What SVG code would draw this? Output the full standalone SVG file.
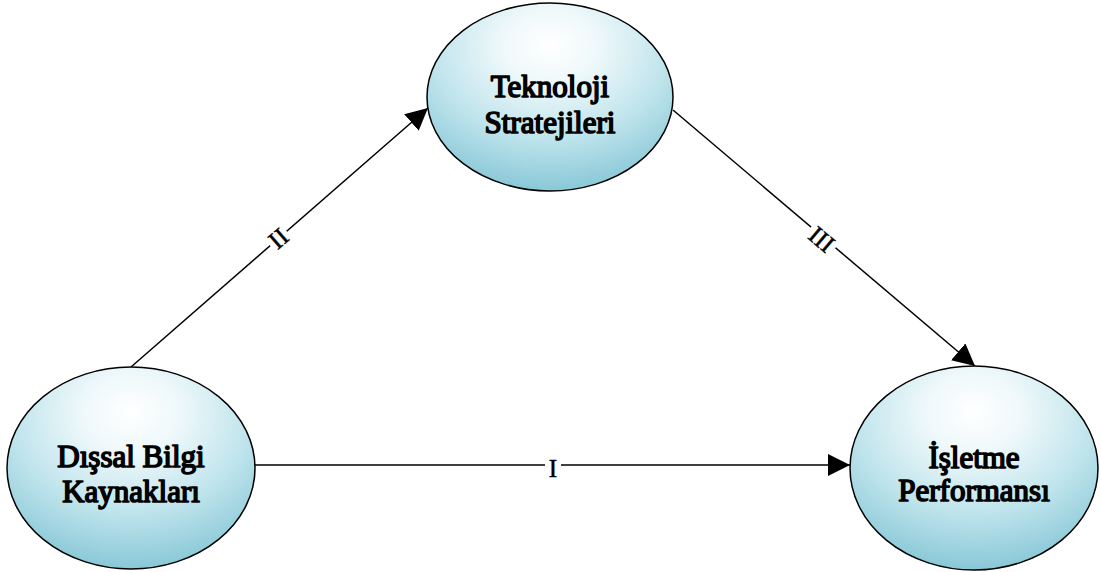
<svg xmlns="http://www.w3.org/2000/svg" width="1101" height="572" viewBox="0 0 1101 572">
<defs>
<radialGradient id="g" cx="50%" cy="25%" r="80%" fx="50%" fy="22%">
<stop offset="0" stop-color="#ffffff"/>
<stop offset="0.25" stop-color="#eef8fa"/>
<stop offset="0.6" stop-color="#bfe4ec"/>
<stop offset="1" stop-color="#7fc3d3"/>
</radialGradient>
<marker id="arr" viewBox="0 0 10 10" refX="10" refY="5" markerWidth="22" markerHeight="22" markerUnits="userSpaceOnUse" orient="auto">
<path d="M0,0 L10,5 L0,10 Z" fill="#000"/>
</marker>
<style>
.node ellipse{fill:url(#g);stroke:#000;stroke-width:1.5}
.node text{font-family:'Liberation Serif',serif;font-weight:normal;font-size:31px;text-anchor:middle;fill:#000;stroke:#000;stroke-width:1.6;stroke-linejoin:round}
.conn line{stroke:#000;stroke-width:1.5;fill:none}
.lbl{font-family:'Liberation Serif',serif;font-size:25px;text-anchor:middle;fill:#000;stroke:#000;stroke-width:0.5}
</style>
</defs>
<g id="connectors" class="conn">
<line x1="131" y1="367" x2="428" y2="108" marker-end="url(#arr)"/>
<line x1="673" y1="110" x2="975" y2="366" marker-end="url(#arr)"/>
<line x1="255" y1="465" x2="850" y2="465" marker-end="url(#arr)"/>
<g transform="translate(278,238) rotate(-41)"><rect x="-11" y="-11" width="22" height="22" fill="#fff"/><text class="lbl" x="0" y="9">II</text></g>
<g transform="translate(822,239) rotate(40)"><rect x="-16" y="-11" width="32" height="22" fill="#fff"/><text class="lbl" x="0" y="9">III</text></g>
<g><rect x="545" y="455" width="16" height="22" fill="#fff"/><text class="lbl" x="553" y="477">I</text></g>
</g>
<g id="node-teknoloji" class="node">
<ellipse cx="550" cy="97" rx="123" ry="94"/>
<text x="550" y="97">Teknoloji</text>
<text x="550" y="133">Stratejileri</text>
</g>
<g id="node-dissal" class="node">
<ellipse cx="131" cy="468" rx="124" ry="101"/>
<text x="131" y="467">Dışsal Bilgi</text>
<text x="131" y="502">Kaynakları</text>
</g>
<g id="node-isletme" class="node">
<ellipse cx="974" cy="468" rx="124" ry="102"/>
<text x="974" y="468">İşletme</text>
<text x="974" y="501">Performansı</text>
</g>
</svg>
